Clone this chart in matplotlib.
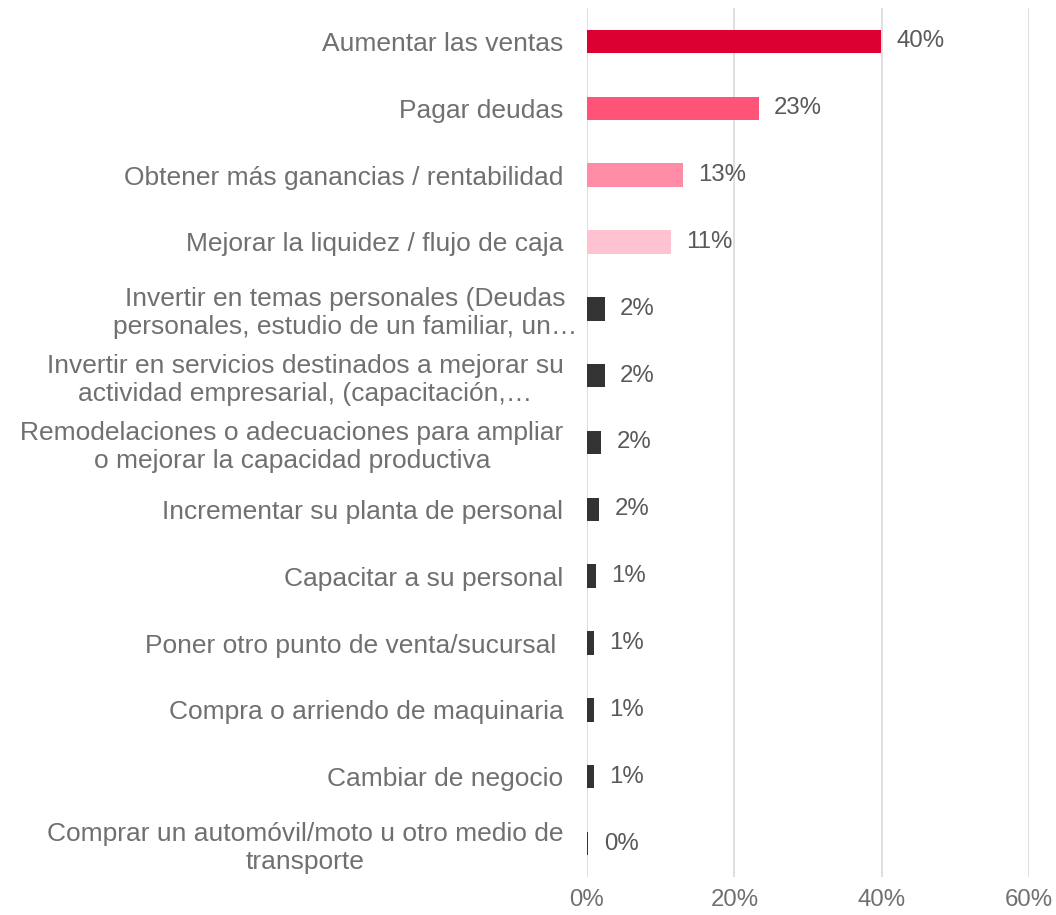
import matplotlib.pyplot as plt
from matplotlib.ticker import PercentFormatter
from matplotlib.transforms import ScaledTranslation

plt.rcParams['font.family'] = ['Liberation Sans', 'DejaVu Sans']

categorias = [
    "Aumentar las ventas",
    "Pagar deudas",
    "Obtener más ganancias / rentabilidad",
    "Mejorar la liquidez / flujo de caja",
    "Invertir en temas personales (Deudas\npersonales, estudio de un familiar, un…",
    "Invertir en servicios destinados a mejorar su\nactividad empresarial, (capacitación,…",
    "Remodelaciones o adecuaciones para ampliar\no mejorar la capacidad productiva",
    "Incrementar su planta de personal",
    "Capacitar a su personal",
    "Poner otro punto de venta/sucursal ",
    "Compra o arriendo de maquinaria",
    "Cambiar de negocio",
    "Comprar un automóvil/moto u otro medio de\ntransporte",
]
valores = [39.9, 23.3, 13.0, 11.4, 2.4, 2.4, 1.9, 1.6, 1.2, 0.9, 0.9, 0.9, 0.2]
etiquetas = ["40%", "23%", "13%", "11%", "2%", "2%", "2%", "2%", "1%", "1%", "1%", "1%", "0%"]
colores = ["#DC0032", "#FF5378", "#FF8CA5", "#FFC2D0"] + ["#333333"] * 9

fig = plt.figure(figsize=(10.56, 9.15), dpi=100)
ax = fig.add_axes([587 / 1056, 1 - 877 / 915, (1029 - 587) / 1056, (877 - 8) / 915])

y = list(range(len(categorias)))
ax.barh(y, valores, height=0.35, color=colores, zorder=3)
for yi, v, t in zip(y, valores, etiquetas):
    ax.text(v + 2.1, yi, t, va='center', ha='left', fontsize=17.3, color='#595959')

ax.set_xlim(0, 60)
ax.set_ylim(len(categorias) - 0.5, -0.5)
ax.set_xticks([0, 20, 40, 60])
ax.xaxis.set_major_formatter(PercentFormatter(decimals=0))
ax.set_yticks(y)
ax.set_yticklabels(categorias, fontsize=19, color='#707070',
                   multialignment='center', linespacing=1.22)
ax.tick_params(axis='x', labelsize=17.3, labelcolor='#707070', length=0, pad=9)
ax.tick_params(axis='y', length=0, pad=17)
ax.grid(axis='x', color='#D9D9D9', linewidth=1.2, zorder=0)
for s in ax.spines.values():
    s.set_visible(False)

# la etiqueta truncada sobresale un poco hacia la derecha en el original
lab = ax.get_yticklabels()[4]
lab.set_transform(lab.get_transform() + ScaledTranslation(0.14, 0, fig.dpi_scale_trans))

fig.savefig("out.png", dpi=100)
